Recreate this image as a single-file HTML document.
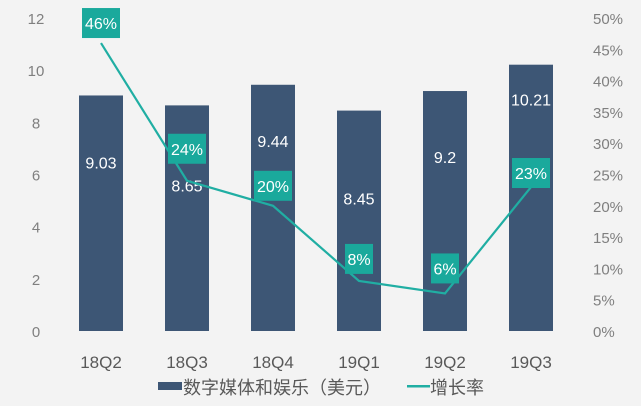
<!DOCTYPE html>
<html><head><meta charset="utf-8"><style>
body{margin:0;background:#f3f3f3;}
svg{display:block;font-family:"Liberation Sans","Noto Sans CJK SC",sans-serif;}
</style></head><body>
<svg width="641" height="406">
<rect width="641" height="406" fill="#f3f3f3"/>
<g id="g"></g>
</svg>
<script>
const categories=["18Q2","18Q3","18Q4","19Q1","19Q2","19Q3"];
const revenue=[9.03,8.65,9.44,8.45,9.2,10.21];
const revenueLabels=["9.03","8.65","9.44","8.45","9.2","10.21"];
const growth=[46,24,20,8,6,23];
const growthLabels=["46%","24%","20%","8%","6%","23%"];
const leftTicks=[0,2,4,6,8,10,12];
const rightTicks=[0,5,10,15,20,25,30,35,40,45,50];
const revLabelOffset=[67,80,56,88,66,35];
const growthBoxOffset=[-20,-32,-20,-22,-25,-14];

const NS="http://www.w3.org/2000/svg";
const g=document.getElementById('g');
const y0=331,yTop=18;
const yL=v=>y0-(v/12)*(y0-yTop);
const yR=v=>y0-(v/50)*(y0-yTop);
const xC=i=>101+i*86;
function mk(t,a,txt){const e=document.createElementNS(NS,t);for(const k in a)e.setAttribute(k,a[k]);if(txt!==undefined)e.textContent=txt;g.appendChild(e);return e;}

leftTicks.forEach(v=>{const e=mk('text',{x:36,y:yL(v)+6,'text-anchor':'middle','font-size':15,fill:'#7f7f7f'},v);

});
rightTicks.forEach(v=>{const e=mk('text',{x:593,y:yR(v)+6,'text-anchor':'start','font-size':15,fill:'#7f7f7f'},v+'%');

});

revenue.forEach((v,i)=>{
const r=mk('rect',{x:xC(i)-22,y:yL(v),width:44,height:y0-yL(v),fill:'#3d5675'});


const t=mk('text',{x:xC(i),y:yL(v)+revLabelOffset[i]+6,'text-anchor':'middle','font-size':16,fill:'#ffffff'},revenueLabels[i]);


const c=mk('text',{x:xC(i),y:368,'text-anchor':'middle','font-size':17,fill:'#595959'},categories[i]);


});

const pts=growth.map((v,i)=>xC(i)+','+yR(v)).join(' ');
const pl=mk('polyline',{points:pts,fill:'none',stroke:'#20aea3','stroke-width':2.2});



growth.forEach((v,i)=>{
const cy=yR(v)+growthBoxOffset[i];
const w=growthLabels[i].length>2?38:28;
const b=mk('rect',{x:xC(i)-w/2,y:cy-15,width:w,height:30,fill:'#1aa99c'});


const t=mk('text',{x:xC(i),y:cy+6,'text-anchor':'middle','font-size':16,fill:'#ffffff'},growthLabels[i]);


});
</script>
<svg width="641" height="36" style="position:absolute;left:0;top:370px">
<rect x="158" y="12" width="24" height="8" fill="#3d5675"/>
<text x="183" y="24" font-size="18" fill="#595959" font-family="Liberation Sans, Noto Sans CJK SC, sans-serif">数字媒体和娱乐（美元）</text>
<rect x="407" y="15" width="23" height="2.5" fill="#20aea3"/>
<text x="430" y="24" font-size="18" fill="#595959" font-family="Liberation Sans, Noto Sans CJK SC, sans-serif">增长率</text>
</svg>
</body></html>
